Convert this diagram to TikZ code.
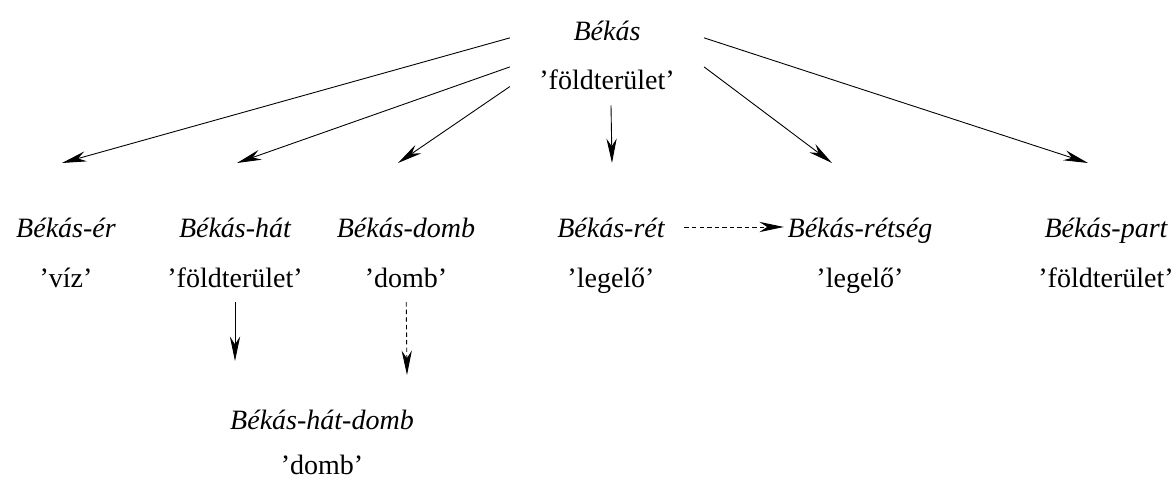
\documentclass[tikz,border=0pt]{standalone}
\usepackage{fontspec}
\setmainfont{Liberation Serif}
\usetikzlibrary{arrows.meta,positioning}

\newcommand{\lexsize}{\fontsize{12.6}{15.1}\selectfont}

\tikzset{
  lexname/.style={font=\lexsize\itshape, text height=9pt, text depth=3pt},
  gloss/.style={font=\lexsize, text height=9pt, text depth=3pt},
  arr/.style={-{Stealth[length=11pt,width=4.6pt,inset=3.5pt]}},
  darr/.style={arr, dash pattern=on 2pt off 1.4pt},
}

\begin{document}
\begin{tikzpicture}[x=0.45pt,y=0.45pt,node distance=22.5pt,on grid,font=\lexsize]
	\useasboundingbox (0,0) rectangle (1172,-478);

	\node[align=center,minimum width=87pt,minimum height=45pt,inner sep=0pt] (bekas) at (607,-55)
		{\textit{Békás}\\[7pt]'földterület'};

	\node[lexname] (er) at (66,-231) {Békás-ér};
	\node[gloss] (er-g) [below=of er] {'víz'};
	\node[lexname] (hat) at (235,-231) {Békás-hát};
	\node[gloss] (hat-g) [below=of hat] {'földterület'};
	\node[lexname] (domb) at (406,-231) {Békás-domb};
	\node[gloss] (domb-g) [below=of domb] {'domb'};
	\node[lexname] (ret) at (611,-231) {Békás-rét};
	\node[gloss] (ret-g) [below=of ret] {'legelő'};
	\node[lexname] (retseg) at (860,-231) {Békás-rétség};
	\node[gloss] (retseg-g) [below=of retseg] {'legelő'};
	\node[lexname] (part) at (1106,-231) {Békás-part};
	\node[gloss] (part-g) [below=of part] {'földterület'};
	\node[lexname] (hatdomb) at (322,-423) {Békás-hát-domb};
	\node[gloss] (hatdomb-g) [below=20.25pt of hatdomb] {'domb'};

	\draw[arr] (bekas.170) -- ([shift={(-4,68)}]er.center);
	\draw[arr] (bekas.187) -- ([shift={(2,68)}]hat.center);
	\draw[arr] (bekas.198) -- ([shift={(-8,68)}]domb.center);
	\draw[arr] (bekas.south -| ret) -- ([shift={(1,68)}]ret.center);
	\draw[arr] (bekas.353) -- ([shift={(-28,68)}]retseg.center);
	\draw[arr] (bekas.10) -- ([shift={(-18,68)}]part.center);

	\draw[darr] ([shift={(12,4)}]ret.east) -- ([shift={(4,4)}]retseg.west);
	\draw[arr] (hat-g) -- ([shift={(0,-80)}]hat-g.center);
	\draw[darr] (domb-g) -- ([shift={(1,-94)}]domb-g.center);

\end{tikzpicture}
\end{document}
